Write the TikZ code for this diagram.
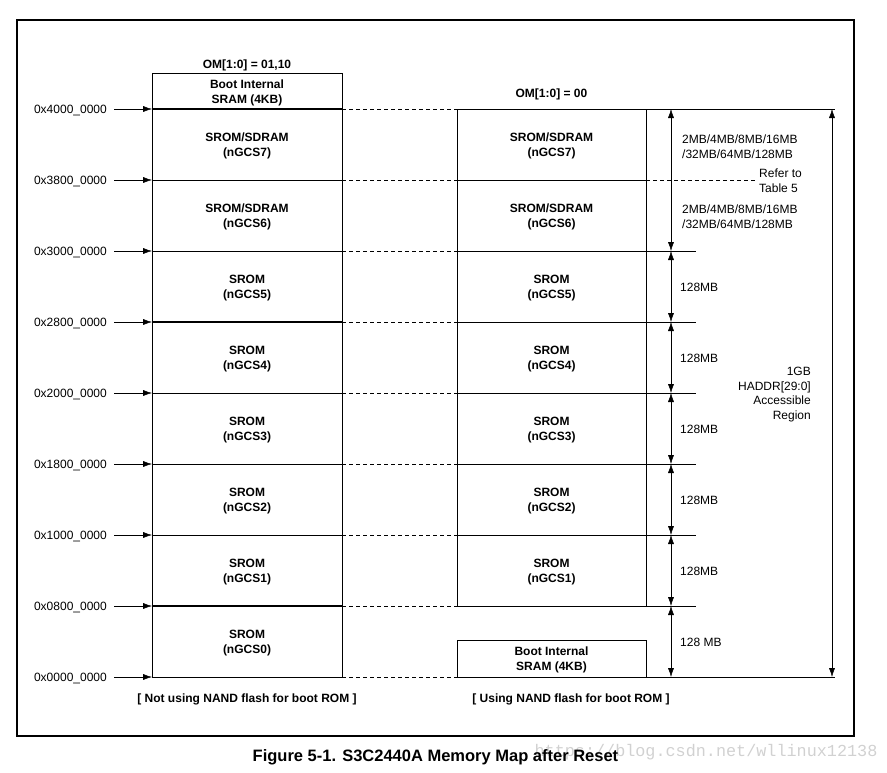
\documentclass[tikz,border=0pt]{standalone}
\usepackage{fontspec}
\setmainfont{Liberation Sans}
\setmonofont{Liberation Mono}
\usetikzlibrary{arrows.meta,positioning,calc}

\begin{document}
\begin{tikzpicture}[x=1pt,y=-1pt,
	txt/.style={font=\fontsize{12}{15}\selectfont,inner sep=0pt},
	bold/.style={font=\fontsize{12}{15}\selectfont\bfseries,inner sep=0pt,align=center},
	addr/.style={txt,anchor=east,text height=8.6pt,text depth=0pt},
	gap/.style={dash pattern=on 4pt off 3pt},
	tip/.style={-{Latex[length=9pt,width=6pt]}},
	dim/.style={{Latex[length=9pt,width=6pt]}-{Latex[length=9pt,width=6pt]}}]
	%
	\useasboundingbox (0,0) rectangle (887,772);
	\draw[line width=2pt] (17,20) rectangle (854,736);
	
	% address levels
	\foreach \k in {0,...,8}{
		\coordinate (l\k) at (152,{677-71*\k});
		\coordinate (m\k) at (342,{677-71*\k});
		\coordinate (r\k) at (457,{677-71*\k});
		\coordinate (s\k) at (646,{677-71*\k});
	}
	
	% left map
	\draw[line width=1pt] (152,73) rectangle (m0);
	\foreach \k in {1,...,8} \draw[line width=1pt] (l\k) -- (m\k);
	\foreach \k in {1,5,8} \draw[line width=2pt] (l\k) -- (m\k);
	\node[bold] (lboot) at (247,93) {Boot Internal\\SRAM (4KB)};
	\node[bold] (lgcs0) at (247,643) {SROM\\(nGCS0)};
	\foreach \k in {1,...,5}
	\node[bold] (lgcs\k) at (247,{643-71*\k}) {SROM\\(nGCS\k)};
	\foreach \k in {6,7}
	\node[bold] (lgcs\k) at (247,{643-71*\k}) {SROM/SDRAM\\(nGCS\k)};
	\node[bold] (lom) at (247,65.5) {OM[1:0] = 01,10};
	\node[bold] (lnote) at (247,699) {[ Not using NAND flash for boot ROM ]};
	
	% addresses
	\foreach \k/\a in {0/0000,1/0800,2/1000,3/1800,4/2000,5/2800,6/3000,7/3800,8/4000}{
		\node[addr] (a\k) at (107,{677-71*\k}) {0x\a\_0000};
		\draw[tip] ([xshift=7pt]a\k.east) -- (l\k);
	}
	
	% right map
	\draw[line width=1pt] (r8) rectangle (s1);
	\foreach \k in {2,...,7} \draw[line width=1pt] (r\k) -- (s\k);
	\draw[line width=1pt] (457,640) rectangle (s0);
	\node[bold] (rboot) at (551.5,659.5) {Boot Internal\\SRAM (4KB)};
	\foreach \k in {1,...,5}
	\node[bold] (rgcs\k) at (551.5,{643-71*\k}) {SROM\\(nGCS\k)};
	\foreach \k in {6,7}
	\node[bold] (rgcs\k) at (551.5,{643-71*\k}) {SROM/SDRAM\\(nGCS\k)};
	\node[bold] (rom) at (551.5,94.5) {OM[1:0] = 00};
	\node[bold] (rnote) at (571,699) {[ Using NAND flash for boot ROM ]};
	
	% dashed links
	\foreach \k in {0,...,8} \draw[gap] (m\k) -- (r\k);
	
	% sizes
	\foreach \k in {1,...,6} \draw (s\k) -- ++(50,0);
	\draw[gap] (s7) -- ++(111,0);
	\draw (s8) -- ++(189,0);
	\draw (s0) -- ++(189,0);
	\foreach \k in {0,...,5} \draw[dim] ($(s\k)+(25,0)$) -- ($(s\k)+(25,-71)$);
	\draw[dim] ($(s6)+(25,0)$) -- ($(s8)+(25,0)$);
	\draw[dim] ($(s0)+(186,0)$) -- ($(s8)+(186,0)$);
	\foreach \k in {1,...,5}
	\node[txt,anchor=west] (sz\k) at ($(s\k)+(34,-35)$) {128MB};
	\node[txt,anchor=west] (sz0) at ($(s0)+(34,-35)$) {128 MB};
	\node[txt,anchor=west,align=left] (sz7) at (682,146.5) {2MB/4MB/8MB/16MB\\/32MB/64MB/128MB};
	\node[txt,anchor=west,align=left] (sz6) at (682,216.5) {2MB/4MB/8MB/16MB\\/32MB/64MB/128MB};
	\node[txt,anchor=west,align=left] (ref) at (759,181) {Refer to\\Table 5};
	\node[txt,anchor=east,align=right,font=\fontsize{12}{14.7}\selectfont] (gb) at (811,394.5) {1GB\\HADDR[29:0]\\Accessible\\Region};
	
	% caption
	\node[inner sep=0pt,text=black!18,font=\ttfamily\fontsize{16.8}{18}\selectfont] (wm) at (706,752) {https://blog.csdn.net/wllinux12138};
	\node[inner sep=0pt,font=\fontsize{16.5}{18}\selectfont\bfseries] (cap) at (435.5,757) {Figure 5-1. S3C2440A Memory Map after Reset};
\end{tikzpicture}
\end{document}
